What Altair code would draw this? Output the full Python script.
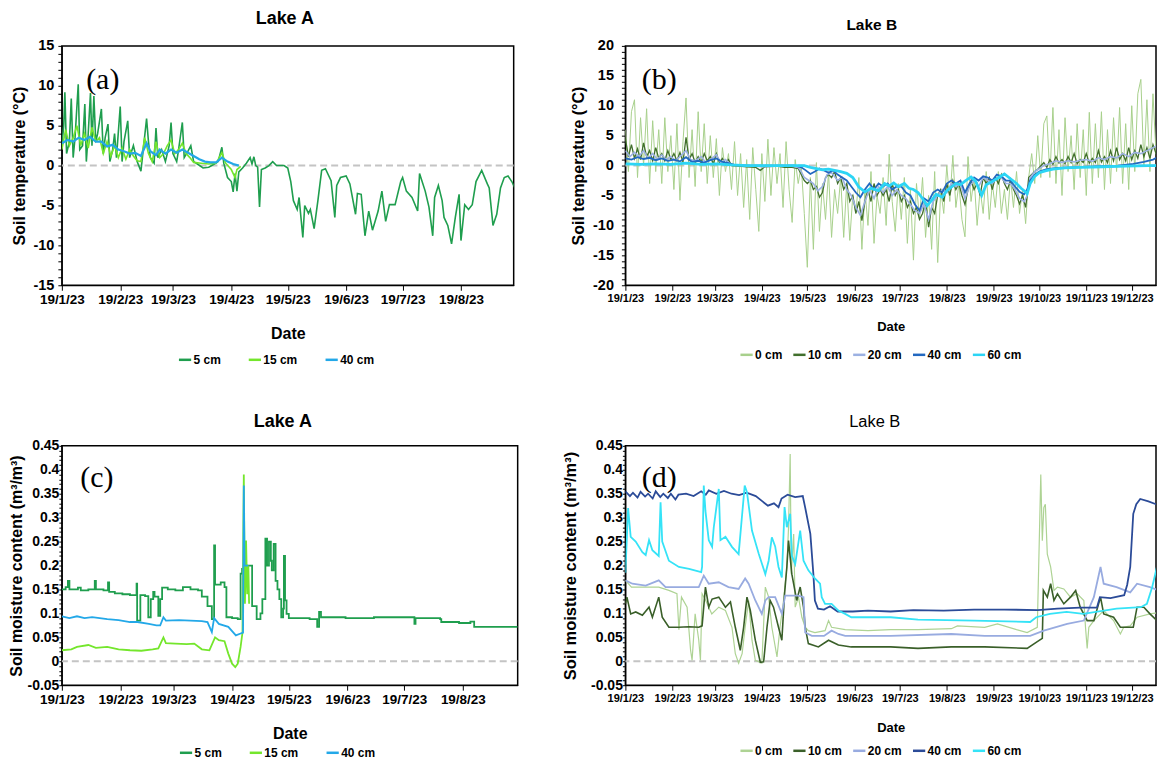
import altair as alt
import pandas as pd
from datetime import datetime, timedelta

BASE = datetime(2019, 1, 23)  # first tick "19/1/23"

SANS = "Liberation Sans, Arial, Helvetica, sans-serif"
SERIF = "Liberation Serif, Times New Roman, serif"

# ---------------- (a) Lake A soil temperature (day offset, °C) ----------------
a_5cm = [(0,2.5),(1,5.0),(1.6,9.2),(2.5,1.5),(4,3.0),(5,8.4),(6,1.0),(7,3.5),(8.7,10.2),(9.5,2.0),(11,2.5),(12.2,7.7),(13,0.5),(14,4.0),(15.2,9.1),(16,2.5),(17,8.7),(18,3.0),(19,4.0),(21,7.1),(22,1.5),(23,3.5),(24.5,5.2),(25.5,0.5),(27,2.0),(28,4.0),(29,1.0),(31,7.4),(32,0.5),(33,3.0),(35,5.6),(36,1.0),(38,2.5),(40,0.5),(42,-0.7),(43,1.5),(45,5.9),(46,3.0),(47,1.0),(49,0.3),(50,4.7),(51,1.0),(53,2.0),(55,0.5),(57,2.5),(58,5.4),(59,1.5),(61,0.5),(62,2.0),(64,5.4),(65,1.0),(67,1.8),(68.5,2.5),(70,0.5),(72,0.2),(75,-0.3),(78,-0.2),(81,0.2),(83,0.5),(85,2.3),(86,0.3),(88,-1.5),(90,-2.0),(91,-3.3),(92,-1.0),(93,-3.2),(94,-0.8),(96,-0.3),(98,0.3),(100,1.0),(101,0.2),(102,1.1),(103,0.0),(104,-0.2),(105,-5.2),(106,-0.5),(108,-0.3),(110,0.0),(112,0.5),(114,0.0),(118,0.0),(120,-0.3),(121.6,-2.0),(123,-4.4),(125,-5.5),(126,-4.0),(128,-9.0),(129,-5.0),(131,-6.0),(132,-5.5),(134,-7.9),(136,-4.4),(138,-0.6),(140,-0.4),(143,-1.9),(145,-6.5),(146,-2.5),(148,-1.5),(151,-1.3),(153,-2.3),(156,-6.1),(157,-3.5),(159,-3.6),(161,-8.8),(163,-5.7),(165,-8.1),(168,-5.7),(170,-3.2),(172,-7.0),(174,-4.9),(177,-4.9),(180,-2.0),(181,-1.5),(183,-3.2),(186,-4.0),(189,-5.7),(190,-1.0),(193,-3.2),(195,-5.2),(197,-8.8),(198,-4.0),(200,-2.5),(202,-4.4),(203,-6.5),(205,-7.5),(207,-9.8),(209,-6.5),(211,-3.6),(212,-9.4),(214,-4.9),(216,-5.5),(218,-4.9),(220,-2.0),(223,-0.6),(226,-2.3),(227,-2.8),(229,-7.5),(231,-6.1),(233,-2.8),(235,-1.5),(237,-1.3),(239,-2.0),(241,-3.0)]
a_15cm = [(0,2.0),(2,4.5),(4,2.5),(6,3.5),(8,5.0),(10,2.5),(12,4.0),(14,2.2),(16,4.8),(18,3.0),(20,3.5),(22,1.5),(24,3.0),(26,1.2),(28,2.5),(30,1.0),(32,2.2),(34,0.8),(36,2.0),(38,1.2),(40,0.6),(42,0.5),(44,3.5),(46,1.5),(48,0.5),(50,3.0),(52,1.0),(54,1.5),(56,2.5),(58,3.2),(60,1.5),(62,2.0),(64,2.8),(66,1.5),(68,1.0),(70,0.4),(74,0.3),(78,0.2),(82,0.3),(85,1.6),(87,0.3),(90,-0.5),(92,-1.5),(93,-0.5),(95,-0.1)]
a_40cm = [(0,2.8),(3,3.2),(6,3.0),(9,3.5),(12,3.2),(15,3.6),(18,3.0),(21,3.0),(24,2.4),(27,2.6),(30,2.0),(33,1.8),(36,1.5),(39,1.6),(42,1.2),(45,2.8),(47,1.8),(50,1.3),(52,2.0),(55,1.5),(58,2.0),(61,1.6),(64,2.0),(67,1.6),(70,1.2),(73,0.8),(76,0.5),(79,0.4),(82,0.4),(85,1.0),(88,0.5),(91,0.2),(94,0.0)]

# ---------------- (b) Lake B soil temperature ----------------
b_0cm = [(0,6),(2,-1),(4,9),(6,11),(8,-2),(10,8),(12,0),(14,9.5),(16,-3),(18,7.5),(20,-1),(22,6),(24,-3),(26,8),(28,-1),(30,5),(32,-4),(34,7),(36,-5.8),(38,4),(40,11.3),(42,-2),(44,6),(46,-3.5),(48,9),(50,-1),(52,7),(54,-3),(56,5),(58,-2),(60,4.5),(62,-5),(64,3),(66,-1),(68,2),(70,-4),(72,4),(74,-5),(76,2),(78,-7),(80,1),(82,-9),(84,3),(86,-4),(88,-11),(90,2),(92,-6),(94,4.4),(96,-5),(98,3),(100,-3),(102,2),(104,-7),(106,4),(108,-4),(110,-9.5),(112,1),(114,-3),(116,0),(118,-8),(120,-17),(122,-2),(124,-14),(126,0.5),(128,-11),(130,-3),(132,-9),(134,-1),(136,-12),(138,-4),(140,-8),(142,-2),(144,-12),(146,-3),(148,-12.5),(150,-5),(152,-8),(154,-2),(156,-14),(158,-4),(160,-10),(162,-1),(164,-13),(166,-5),(168,-8),(170,-2),(172,-10),(174,1.9),(176,-6),(178,-11),(180,-3),(182,-9),(184,-2),(186,-13),(188,-4),(190,-15.8),(192,-3),(194,-9),(196,-2),(198,-12),(200,-5),(202,-14),(204,-1),(206,-16.2),(208,-4),(210,-8),(212,0),(214,-6),(216,1.7),(218,-7),(220,-3),(222,-9),(224,-11.9),(226,1.5),(228,-6),(230,-2),(232,-10),(234,-4),(236,-8),(238,-1),(240,-9),(242,-3),(244,-7),(246,-1),(248,-8),(250,-4),(252,-9),(254,-2),(256,-7),(258,-1),(260,-8),(262,-4),(264,-9.7),(266,-2),(268,2),(270,-3),(272,5),(274,-2),(276,7),(278,8.3),(280,-2),(282,9.7),(284,-3),(286,6),(288,-5),(290,8),(292,-1),(294,5),(296,-4),(298,7),(300,-2),(302,6),(304,-5),(306,8.9),(308,-3),(310,7),(312,-2),(314,9),(316,-4),(318,6),(320,-3),(322,8),(324,-1),(326,9.7),(328,-3),(330,7),(332,-4),(334,10),(336,-1),(338,12),(340,14.4),(342,0),(344,11),(346,-1),(348,12),(350,2),(352,10),(354,12.5)]
b_10cm = [(0,4.5),(2,1.5),(4,3.5),(6,1.2),(8,2.8),(10,1.0),(12,3.8),(14,1.5),(16,2.5),(18,0.8),(20,3),(22,1.2),(24,2),(26,0.8),(28,2.5),(30,1),(32,2),(34,0.8),(36,2.2),(38,0.6),(40,4.7),(42,1),(44,2),(46,0.5),(48,1.5),(50,0.5),(52,2),(54,0.8),(56,1.5),(58,0.3),(60,2),(62,0.5),(64,1.2),(66,0.2),(68,1),(70,0),(75,-0.1),(80,-0.2),(86,-0.3),(89,-0.8),(92,-0.2),(100,-0.1),(105,-0.3),(110,-0.3),(114,-0.5),(116,-1.5),(118,-2.5),(120,-3),(122,-2.5),(124,-4),(126,-3.5),(128,-5.3),(130,-4.5),(132,-2),(134,-1.5),(136,-2),(138,-1),(140,-3),(142,-2),(144,-4),(146,-3),(148,-6),(150,-5),(152,-8),(154,-6),(156,-9.2),(158,-6),(160,-4),(162,-6),(164,-3),(166,-5),(168,-4),(170,-5),(172,-4),(174,-6),(176,-3),(178,-5),(180,-4),(182,-6),(184,-5),(186,-7),(188,-6),(190,-8),(192,-7),(194,-9),(196,-8),(198,-6),(200,-10.3),(202,-7),(204,-8),(206,-5),(208,-4),(210,-6),(212,-3),(214,-5),(216,-2.5),(218,-4),(220,-3),(222,-5),(224,-6.5),(226,-4),(228,-2.5),(230,-4),(232,-3),(234,-5),(236,-2),(238,-3),(240,-2),(242,-4),(244,-2),(246,-3),(248,-1.5),(250,-3),(252,-4),(254,-2.5),(256,-4),(258,-5),(260,-6.4),(262,-5),(264,-7),(265,-5),(266,-2),(268,-1.5),(270,-1),(272,-0.6),(276,0.5),(278,-0.3),(280,1),(282,0.2),(284,1.5),(286,0.4),(288,1),(290,0.3),(292,1.5),(294,0.5),(296,2),(298,0.3),(300,1),(302,0.5),(304,2),(306,0.4),(308,1.2),(310,0.5),(312,2.5),(314,0.6),(316,1.5),(318,0.5),(320,2.5),(322,0.8),(324,3),(326,1),(328,2),(330,0.8),(332,3),(334,1),(336,2.5),(338,1.2),(340,3.5),(342,1.5),(344,3),(346,1.2),(348,3.5),(350,2),(352,4.2),(354,5.5)]
b_20cm = [(0,2.5),(3,1.5),(6,2.2),(9,1.5),(12,2.5),(15,1.2),(18,2),(21,1),(24,1.8),(27,1),(30,1.5),(33,0.8),(36,1.5),(40,2.5),(43,1),(46,0.8),(50,1.5),(53,0.5),(56,1),(60,1.8),(63,0.5),(66,1),(70,0.1),(80,0),(90,-0.2),(100,-0.1),(110,-0.1),(114,-0.3),(116,-1),(118,-2),(121,-2.5),(124,-3),(127,-4.2),(130,-3.5),(133,-1.5),(136,-1.2),(140,-2.5),(143,-2),(146,-4),(149,-5),(152,-7),(155,-8.3),(158,-6),(161,-4),(164,-5.5),(167,-3.5),(170,-4.5),(173,-3.5),(176,-5),(179,-4),(182,-5),(185,-5.5),(188,-6.5),(191,-7.5),(194,-8),(197,-6.5),(200,-9),(203,-6),(206,-5),(209,-4),(212,-4.5),(215,-3),(218,-3.5),(221,-3),(224,-5.5),(227,-3.5),(230,-2.5),(233,-3.5),(236,-2),(239,-2.5),(242,-3),(245,-2),(248,-2),(251,-3),(254,-3),(257,-4),(260,-5.5),(263,-6),(265,-5),(267,-2),(270,-1),(273,-0.5),(276,0),(280,0.3),(284,0.8),(288,0.5),(292,0.8),(296,0.6),(300,0.9),(304,1),(308,0.7),(312,1.3),(316,1),(320,1.5),(324,1.3),(328,2),(332,1.5),(336,2.2),(340,2),(344,2.5),(348,3),(352,3.5),(355,4.7)]
b_40cm = [(0,1.2),(4,1.0),(8,1.4),(12,1.1),(16,1.3),(20,0.9),(24,1.2),(28,0.8),(32,1.0),(36,0.7),(40,1.4),(44,0.6),(48,0.8),(52,0.5),(56,0.9),(60,1.2),(64,0.6),(68,0.4),(72,0.1),(80,0),(100,0),(112,0),(116,-0.3),(119,-0.8),(122,-1.4),(125,-1.0),(128,-0.5),(131,-0.8),(134,-1.2),(137,-0.8),(140,-1.5),(143,-2),(146,-2.5),(149,-3.5),(152,-4.5),(155,-5.3),(158,-4),(161,-3),(164,-4),(167,-3),(170,-3.5),(173,-3),(176,-4),(179,-3.5),(182,-3.5),(185,-4.5),(188,-5),(191,-6.5),(194,-7.5),(197,-5.5),(200,-6),(203,-4.5),(206,-4),(209,-4.5),(212,-3),(215,-2.5),(218,-3),(221,-2.5),(224,-4.5),(227,-3),(230,-2),(233,-2.5),(236,-1.8),(239,-2),(242,-2.5),(245,-1.5),(248,-1.8),(251,-2.5),(254,-2.5),(257,-3.5),(260,-4.4),(263,-4.8),(265,-4),(267,-2.5),(270,-1.5),(273,-1),(278,-0.6),(285,-0.4),(295,-0.3),(305,-0.2),(315,-0.1),(325,0),(335,0.3),(342,0.6),(348,1.0),(352,1.5),(355,2.2)]
b_60cm = [(0,0.3),(10,0.2),(20,0.3),(30,0.2),(40,0.4),(50,0.2),(60,0.3),(70,0.1),(80,0),(110,0),(118,0),(122,-0.3),(126,-0.5),(130,-0.7),(134,-0.6),(138,-0.8),(142,-1.0),(146,-1.3),(150,-2.0),(154,-3.6),(158,-4.4),(162,-3.8),(167,-4.2),(171,-3.0),(174,-3.4),(177,-2.9),(180,-3.5),(184,-3.0),(187,-3.8),(190,-4.0),(193,-4.5),(196,-5.5),(199,-6.7),(202,-5.8),(205,-4.8),(209,-5.3),(212,-4.2),(215,-3.6),(218,-3.0),(221,-3.2),(224,-2.6),(228,-1.9),(231,-2.6),(235,-5.0),(238,-3.2),(241,-2.8),(245,-2.2),(250,-1.4),(254,-2.2),(258,-3.0),(261,-3.8),(263,-4.2),(265,-4.7),(267,-3.0),(270,-1.8),(273,-1.2),(277,-0.9),(282,-0.6),(290,-0.4),(300,-0.3),(315,-0.2),(330,-0.1),(345,0),(355,0)]

# ---------------- (c) Lake A soil moisture (m3/m3) ----------------
c_5cm = [(0,0.15),(2,0.155),(3.2,0.168),(4,0.15),(8.5,0.154),(10,0.148),(14,0.15),(17.4,0.168),(18,0.15),(22,0.148),(24.4,0.165),(25,0.145),(28,0.142),(32,0.14),(36,0.138),(39.5,0.162),(39.8,0.085),(41,0.085),(41.5,0.138),(44,0.136),(45.7,0.092),(47,0.13),(48.3,0.145),(49,0.135),(51,0.095),(52,0.13),(53,0.154),(56,0.15),(60,0.148),(64,0.155),(68,0.15),(72,0.148),(74,0.135),(77,0.115),(79.3,0.088),(80.5,0.242),(81,0.16),(84,0.165),(86,0.155),(87,0.092),(90,0.09),(93,0.088),(94.5,0.183),(95.3,0.193),(97,0.197),(98,0.2),(100.6,0.115),(103,0.088),(105,0.1),(106,0.13),(107.6,0.256),(108.5,0.2),(109.5,0.25),(110.5,0.21),(111,0.19),(112,0.245),(113,0.168),(114,0.15),(115,0.13),(116,0.092),(117,0.11),(117.4,0.22),(118,0.127),(118.8,0.099),(120,0.09),(125,0.09),(131,0.088),(135,0.072),(136,0.103),(137,0.092),(150,0.09),(165,0.092),(180,0.092),(186.4,0.078),(187,0.09),(200,0.088),(200.6,0.082),(210,0.08),(216,0.083),(218,0.072),(225,0.072),(235,0.072),(241,0.072)]
c_15cm = [(0,0.023),(5,0.025),(8,0.03),(14,0.034),(18,0.028),(24,0.03),(30,0.025),(36,0.023),(42,0.022),(48,0.025),(51,0.027),(53.7,0.05),(55,0.038),(60,0.037),(66,0.036),(70,0.037),(74,0.025),(78,0.023),(81,0.05),(83,0.044),(86,0.042),(88,0.016),(90,-0.005),(91.7,-0.012),(93,-0.005),(94.5,0.03),(95.5,0.06),(96.2,0.39),(96.8,0.12),(97.4,0.252),(98,0.14),(98.6,0.2),(99,0.12)]
c_40cm = [(0,0.094),(4,0.09),(8,0.094),(12,0.09),(16,0.092),(20,0.09),(24,0.088),(30,0.086),(36,0.082),(40,0.082),(46,0.078),(50,0.075),(52,0.075),(53.7,0.092),(55,0.085),(62,0.086),(68,0.085),(74,0.084),(77,0.082),(79.3,0.061),(80.5,0.09),(83,0.078),(88,0.072),(92,0.054),(94.5,0.058),(95.8,0.06),(96.2,0.367),(96.6,0.2),(98.5,0.2)]

# ---------------- (d) Lake B soil moisture ----------------
d_0cm = [(0,0.169),(4,0.155),(13,0.155),(22,0.155),(28.7,0.148),(34,0.141),(35.3,0.066),(37,0.134),(40.7,0.113),(43,0.023),(44,0.002),(46,0.099),(48.4,0.044),(49.5,0.002),(50.6,0.141),(53,0.127),(57,0.099),(61.6,0.113),(66,0.106),(70.3,0.071),(72.5,0.016),(74.7,-0.004),(77,0.016),(79,0.071),(81.3,0.127),(83.5,0.044),(85.7,0.002),(90,-0.004),(92.3,0.155),(94.5,0.134),(96.6,0.071),(100,0.009),(102,0.071),(104.3,0.127),(106.5,0.196),(107.6,0.279),(108.7,0.433),(109.4,0.182),(111,0.266),(112,0.113),(114.2,0.134),(116.4,0.092),(118.6,0.071),(120.7,0.064),(125,0.06),(131.7,0.064),(134,0.085),(136,0.071),(145,0.066),(160,0.064),(175,0.066),(193,0.066),(215,0.068),(219,0.074),(237,0.071),(245.4,0.078),(258,0.066),(265,0.06),(271.7,0.071),(274,0.39),(275,0.252),(276,0.321),(277,0.328),(278.3,0.224),(280.5,0.197),(282.7,0.148),(285,0.155),(289.2,0.151),(293.6,0.134),(298,0.141),(302.4,0.127),(303.5,0.071),(304.6,0.027),(305.7,0.071),(309,0.085),(315.5,0.106),(322,0.085),(326.5,0.057),(328.7,0.071),(333,0.074),(337.5,0.092),(346,0.099),(355,0.103)]
d_10cm = [(0,0.12),(1,0.134),(3.5,0.099),(6.8,0.103),(11.2,0.096),(15.6,0.113),(17.8,0.092),(22,0.134),(24.3,0.092),(28.7,0.071),(35,0.071),(42,0.072),(48.4,0.071),(50.6,0.074),(52.8,0.155),(55,0.113),(57.2,0.13),(61.6,0.134),(66,0.113),(69.3,0.124),(72.5,0.071),(75.8,0.023),(78,0.071),(80.2,0.134),(82.4,0.106),(85.7,0.044),(89,-0.002),(91.2,-0.001),(93.4,0.071),(95.5,0.127),(97.7,0.113),(101,0.071),(103.2,0.044),(105,0.141),(106.5,0.197),(107.6,0.252),(109.8,0.182),(113,0.127),(115.3,0.155),(117.5,0.113),(118.6,0.071),(120.7,0.037),(127.3,0.03),(134,0.044),(140.5,0.034),(149,0.03),(175,0.03),(193,0.027),(215,0.03),(237,0.03),(265,0.027),(271.7,0.041),(275,0.048),(275.7,0.148),(278.3,0.134),(280.5,0.162),(282.7,0.127),(285,0.141),(289.2,0.12),(293.6,0.134),(297,0.148),(300,0.113),(304.6,0.085),(309,0.085),(313.4,0.134),(315.5,0.099),(322,0.092),(326.5,0.071),(335,0.071),(337.5,0.113),(342,0.113),(346,0.099),(350.6,0.085),(355,0.092)]
d_20cm = [(0,0.169),(4.6,0.162),(13.4,0.158),(22,0.169),(26.5,0.155),(35,0.155),(48.4,0.155),(51.7,0.179),(55,0.162),(61.6,0.165),(68,0.155),(74.7,0.151),(79,0.173),(81.3,0.162),(85.7,0.127),(90,0.099),(92.3,0.127),(94.5,0.134),(98.8,0.134),(103.2,0.099),(105.4,0.137),(114,0.137),(117.5,0.134),(118.6,0.06),(123,0.053),(131,0.053),(136,0.064),(140.5,0.057),(145,0.053),(175,0.053),(215,0.057),(237,0.053),(267,0.053),(276,0.064),(291.4,0.078),(302.4,0.085),(309,0.134),(313.4,0.197),(315.5,0.162),(324,0.155),(333,0.144),(337.5,0.162),(346,0.155),(355,0.144)]
d_40cm = [(0,0.355),(3,0.345),(5,0.352),(8,0.342),(10,0.354),(13,0.344),(15,0.35),(18,0.34),(20,0.355),(23,0.343),(25,0.35),(28,0.341),(30,0.35),(33,0.338),(35,0.348),(40,0.35),(45,0.345),(50,0.355),(53,0.348),(55,0.357),(60,0.35),(65,0.356),(70,0.35),(75,0.347),(80,0.352),(86,0.345),(90,0.335),(94,0.325),(98,0.33),(101,0.322),(103,0.34),(107,0.348),(112,0.343),(117,0.345),(118.6,0.321),(122,0.266),(124,0.182),(125,0.127),(127,0.11),(131,0.108),(135,0.115),(140,0.104),(150,0.104),(160,0.106),(175,0.104),(190,0.107),(210,0.106),(230,0.108),(250,0.108),(272,0.107),(285,0.11),(300,0.112),(311,0.112),(313,0.134),(320,0.132),(329,0.138),(331,0.16),(333,0.197),(335,0.308),(337,0.328),(339.6,0.339),(345,0.334),(350,0.328),(355,0.326)]
d_60cm = [(0,0.185),(1.8,0.32),(3.5,0.26),(6.8,0.25),(11.2,0.228),(13.4,0.222),(15.6,0.253),(17.8,0.232),(22,0.22),(23.2,0.332),(24.3,0.25),(28.7,0.21),(35.3,0.197),(42,0.193),(50,0.186),(50.6,0.197),(51.7,0.367),(52.8,0.314),(55,0.253),(57.2,0.239),(58.3,0.28),(61.6,0.36),(62.7,0.253),(66,0.26),(70.3,0.239),(74.7,0.224),(78.7,0.367),(80.2,0.353),(83.5,0.273),(88,0.224),(92.3,0.182),(94.5,0.21),(96.6,0.259),(98.8,0.24),(101,0.197),(103.2,0.175),(105,0.322),(106.5,0.28),(108.7,0.308),(109.8,0.22),(112,0.203),(115.3,0.273),(117.5,0.21),(120.7,0.19),(125,0.173),(128.4,0.162),(129.5,0.134),(131.7,0.12),(136,0.12),(140.5,0.106),(145,0.099),(149,0.092),(175,0.092),(193,0.087),(230,0.085),(267,0.082),(271,0.092),(280,0.099),(291,0.103),(302,0.099),(324,0.11),(340,0.113),(344,0.12),(347.5,0.155),(350.6,0.197),(354,0.232),(355,0.24)]

# tick values / labels
MONTH_TICKS = [(2019, m, 23) for m in range(1, 13)]
TEMP_A_TICKS = list(range(-15, 16))
TEMP_B_TICKS = list(range(-20, 21))
MOIST_TICKS = [round(-0.05 + 0.01 * i, 2) for i in range(51)]


def iso(day):
    return (BASE + timedelta(days=day)).strftime("%Y-%m-%dT%H:%M:%SZ")


def dt(day):
    t = BASE + timedelta(days=day)
    return alt.DateTime(year=t.year, month=t.month, date=t.day, hours=t.hour, utc=True)


def panel(series, names, colors, widths, interps, ydomain, yticks, ylabel_expr,
          ytitle, ytitle_size, title, title_weight, title_size, title_offset, title_dx,
          tag, tag_xy, xend, width, nticks, xlabel_size, ylabel_size, legend_xy,
          legend_pad, ylabel_pad, yextent, ytitle_pad, xtitle_pad, xtitle_size, ytick):
    xaxis = alt.Axis(values=[alt.DateTime(year=y, month=m, date=d, utc=True) for (y, m, d) in MONTH_TICKS[:nticks]],
                     format="%y/%-m/%d", tickSize=5, tickColor="black", domainColor="black",
                     labelFont=SANS, labelFontSize=xlabel_size, labelFontWeight="bold",
                     labelColor="black", labelOverlap=False, labelFlush=False, labelPadding=2,
                     grid=False, title="Date", titleFont=SANS, titleFontSize=xtitle_size,
                     titleFontWeight="bold", titleColor="black", titlePadding=xtitle_pad)
    yaxis = alt.Axis(values=yticks, labelExpr=ylabel_expr, tickSize=ytick, tickColor="black",
                     domainColor="black", labelFont=SANS, labelFontSize=ylabel_size,
                     labelFontWeight="bold", labelColor="black", labelPadding=ylabel_pad,
                     labelOverlap=False, grid=False, title=ytitle, titleFont=SANS,
                     titleFontSize=ytitle_size, titleFontWeight="bold", titleColor="black",
                     titlePadding=ytitle_pad, minExtent=yextent, maxExtent=yextent)
    xenc = alt.X("date:T", scale=alt.Scale(type="utc", domain=[dt(0), dt(xend)]), axis=xaxis)
    yenc = alt.Y("value:Q", scale=alt.Scale(domain=ydomain, nice=False, zero=False), axis=yaxis)
    legend = alt.Legend(orient="none", legendX=legend_xy[0], legendY=legend_xy[1],
                        direction="horizontal", title=None, symbolType="stroke",
                        symbolStrokeWidth=2.5, symbolSize=150, labelFont=SANS,
                        labelFontSize=12, labelFontWeight="bold", labelColor="black",
                        columnPadding=legend_pad, labelOffset=1)
    cscale = alt.Scale(domain=names, range=colors)
    layers = []
    zero = alt.Chart(pd.DataFrame({"value": [0]})).mark_rule(
        color="#c4c4c4", strokeDash=[7, 4], strokeWidth=2).encode(y=yenc)
    layers.append(zero)
    for pts, name, w, ip in zip(series, names, widths, interps):
        df = pd.DataFrame({"date": [iso(d) for d, _ in pts],
                           "value": [v for _, v in pts],
                           "depth": [name] * len(pts)})
        layers.append(alt.Chart(df).mark_line(strokeWidth=w, clip=True, interpolate=ip).encode(
            x=xenc, y=yenc, color=alt.Color("depth:N", scale=cscale, legend=legend)))
    tagc = alt.Chart(pd.DataFrame({"t": [tag]})).mark_text(
        font=SERIF, fontSize=30, color="black", align="center", baseline="middle").encode(
        x=alt.value(tag_xy[0]), y=alt.value(tag_xy[1]), text="t:N")
    layers.append(tagc)
    return alt.layer(*layers).properties(
        width=width, height=240,
        title=alt.TitleParams(text=title, font=SANS, fontSize=title_size,
                              fontWeight=title_weight, color="black", anchor="middle",
                              frame="group", offset=title_offset, dx=title_dx))


labelA = "datum.value % 5 === 0 ? toString(datum.value) : ''"
labelM = "abs(round(datum.value * 100)) % 5 === 0 ? toString(datum.value) : ''"

pa = panel([a_5cm, a_15cm, a_40cm], ["5 cm", "15 cm", "40 cm"],
           ["#1f9e4e", "#74e62c", "#23a8e8"], [1.6, 1.6, 2.2], ["linear", "linear", "linear"],
           [-15, 15], TEMP_A_TICKS, labelA, "Soil temperature (°C)", 16,
           "Lake A", "bold", 18, 10, -3, "(a)", (41, 34), 240, 453, 8, 13.5, 14.5,
           (116, 307), 22, 4, 29, 5, 20, 16, 4)
pb = panel([b_0cm, b_10cm, b_20cm, b_40cm, b_60cm], ["0 cm", "10 cm", "20 cm", "40 cm", "60 cm"],
           ["#a8d08c", "#416f2c", "#9cb1e2", "#2268c0", "#2cd5f5"], [1.0, 1.3, 1.6, 1.8, 2.8],
           ["linear"] * 5, [-20, 20], TEMP_B_TICKS, labelA, "Soil temperature (°C)", 16,
           "Lake B", "bold", 15.5, 4, -19, "(b)", (34, 34), 350, 532, 12, 11, 14.5,
           (114, 302), 5, 8, 33, 6, 17, 13, 4)
pc = panel([c_5cm, c_15cm, c_40cm], ["5 cm", "15 cm", "40 cm"],
           ["#1f9e4e", "#74e62c", "#23a8e8"], [1.8, 1.8, 1.8], ["step-after", "linear", "linear"],
           [-0.05, 0.45], MOIST_TICKS, labelM, "Soil moisture content (m³/m³)", 16,
           "Lake A", "bold", 18, 8, -7, "(c)", (35, 32), 241, 457, 8, 13.5, 14,
           (117, 300), 22, 0, 35, 2, 20, 16, 3)
pd_ = panel([d_0cm, d_10cm, d_20cm, d_40cm, d_60cm], ["0 cm", "10 cm", "20 cm", "40 cm", "60 cm"],
            ["#aed394", "#3a5f29", "#98abe0", "#2b4b98", "#35e3f7"], [1.2, 1.6, 1.8, 1.8, 1.8],
            ["linear"] * 5, [-0.05, 0.45], MOIST_TICKS, labelM, "Soil moisture content  (m³/m³)", 16.5,
            "Lake B", "normal", 16.5, 8, -16, "(d)", (34, 32), 350, 532, 12, 11, 14,
            (114, 298), 5, 0, 36, 11, 18, 13, 3)

row1 = alt.hconcat(pa, pb, spacing=112, bounds="flush").resolve_scale(color="independent")
row2 = alt.hconcat(pc, pd_, spacing=108, bounds="flush").resolve_scale(color="independent")
chart = alt.vconcat(row1, row2, spacing=45).resolve_scale(color="independent").properties(
    padding=0).configure_view(stroke="black", strokeWidth=1.5)

chart.save("out.html", embed_options={"renderer": "svg", "actions": False})
